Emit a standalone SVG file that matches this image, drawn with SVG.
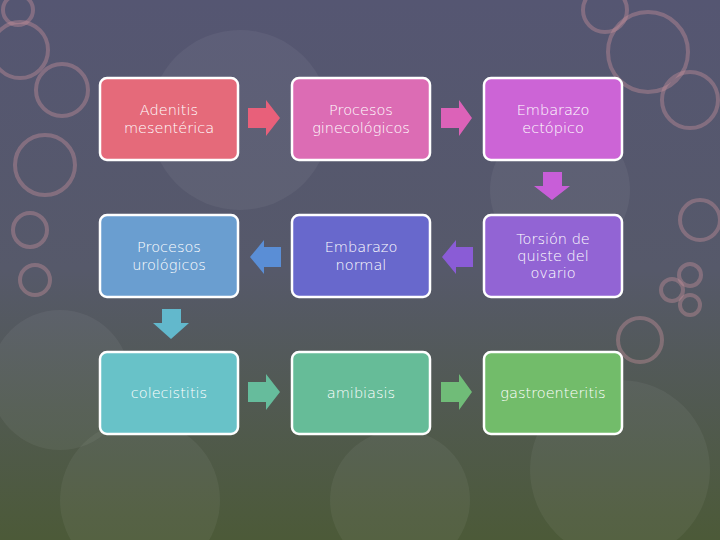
<svg xmlns="http://www.w3.org/2000/svg" width="720" height="540" viewBox="0 0 720 540">
<defs>
<linearGradient id="bg" x1="0" y1="0" x2="0" y2="1">
<stop offset="0" stop-color="#555672"/>
<stop offset="0.5" stop-color="#56596a"/>
<stop offset="1" stop-color="#4c5a38"/>
</linearGradient>
<style>
.box{stroke:#fff;stroke-width:2.5}
.t{font-family:"DejaVu Sans","Open Sans",sans-serif;font-size:14.5px;font-weight:200;fill:#fff;text-anchor:middle}
.c{fill:none;stroke:#c8909c;stroke-opacity:.4;stroke-width:4}
.f{fill:#fff;fill-opacity:.05}
</style>
</defs>
<rect width="720" height="540" fill="url(#bg)"/>
<g id="decor">
<circle class="c" cx="20" cy="50" r="28"/><circle class="c" cx="62" cy="90" r="26"/><circle class="c" cx="45" cy="165" r="30"/>
<circle class="c" cx="30" cy="230" r="17"/><circle class="c" cx="35" cy="280" r="15"/><circle class="c" cx="18" cy="10" r="15"/>
<circle class="c" cx="648" cy="52" r="40"/><circle class="c" cx="605" cy="10" r="22"/><circle class="c" cx="690" cy="100" r="28"/>
<circle class="c" cx="690" cy="275" r="11"/><circle class="c" cx="672" cy="290" r="11"/><circle class="c" cx="690" cy="305" r="10"/>
<circle class="c" cx="640" cy="340" r="22"/><circle class="c" cx="700" cy="220" r="20"/>
<circle class="f" cx="140" cy="500" r="80"/><circle class="f" cx="620" cy="470" r="90"/><circle class="f" cx="560" cy="190" r="70"/>
<circle class="f" cx="240" cy="120" r="90"/><circle class="f" cx="400" cy="500" r="70"/><circle class="f" cx="60" cy="380" r="70"/>
</g>
<g id="connectors">
<polygon points="248,108 266,108 266,100 280,118 266,136 266,128 248,128" fill="#e8607a"/>
<polygon points="441,108 459,108 459,100 472,118 459,136 459,128 441,128" fill="#dc62b8"/>
<polygon points="543,172 562,172 562,186 570,186 552,200 534,186 543,186" fill="#c85ed8"/>
<polygon points="473,247 456,247 456,240 442,257 456,274 456,267 473,267" fill="#8a5cd6"/>
<polygon points="281,247 264,247 264,240 250,257 264,274 264,267 281,267" fill="#5a8ed6"/>
<polygon points="162,309 181,309 181,323 189,323 171,339 153,323 162,323" fill="#62b8cc"/>
<polygon points="248,382 266,382 266,374 280,392 266,410 266,402 248,402" fill="#66bc9c"/>
<polygon points="441,382 459,382 459,374 472,392 459,410 459,402 441,402" fill="#70bc78"/>
</g>
<g id="n1"><rect class="box" x="100" y="78" width="138" height="82" rx="7" fill="#e56a7a"/><text class="t" x="169" y="115">Adenitis</text><text class="t" x="169" y="133">mesentérica</text></g>
<g id="n2"><rect class="box" x="292" y="78" width="138" height="82" rx="7" fill="#dc6cb4"/><text class="t" x="361" y="115">Procesos</text><text class="t" x="361" y="133">ginecológicos</text></g>
<g id="n3"><rect class="box" x="484" y="78" width="138" height="82" rx="7" fill="#cc64d6"/><text class="t" x="553" y="115">Embarazo</text><text class="t" x="553" y="133">ectópico</text></g>
<g id="n4"><rect class="box" x="100" y="215" width="138" height="82" rx="7" fill="#6a9ed0"/><text class="t" x="169" y="252">Procesos</text><text class="t" x="169" y="270">urológicos</text></g>
<g id="n5"><rect class="box" x="292" y="215" width="138" height="82" rx="7" fill="#6868cc"/><text class="t" x="361" y="252">Embarazo</text><text class="t" x="361" y="270">normal</text></g>
<g id="n6"><rect class="box" x="484" y="215" width="138" height="82" rx="7" fill="#9264d4"/><text class="t" x="553" y="244">Torsión de</text><text class="t" x="553" y="261">quiste del</text><text class="t" x="553" y="278">ovario</text></g>
<g id="n7"><rect class="box" x="100" y="352" width="138" height="82" rx="7" fill="#68c2c8"/><text class="t" x="169" y="398">colecistitis</text></g>
<g id="n8"><rect class="box" x="292" y="352" width="138" height="82" rx="7" fill="#66bc98"/><text class="t" x="361" y="398">amibiasis</text></g>
<g id="n9"><rect class="box" x="484" y="352" width="138" height="82" rx="7" fill="#72bc6a"/><text class="t" x="553" y="398">gastroenteritis</text></g>
</svg>
